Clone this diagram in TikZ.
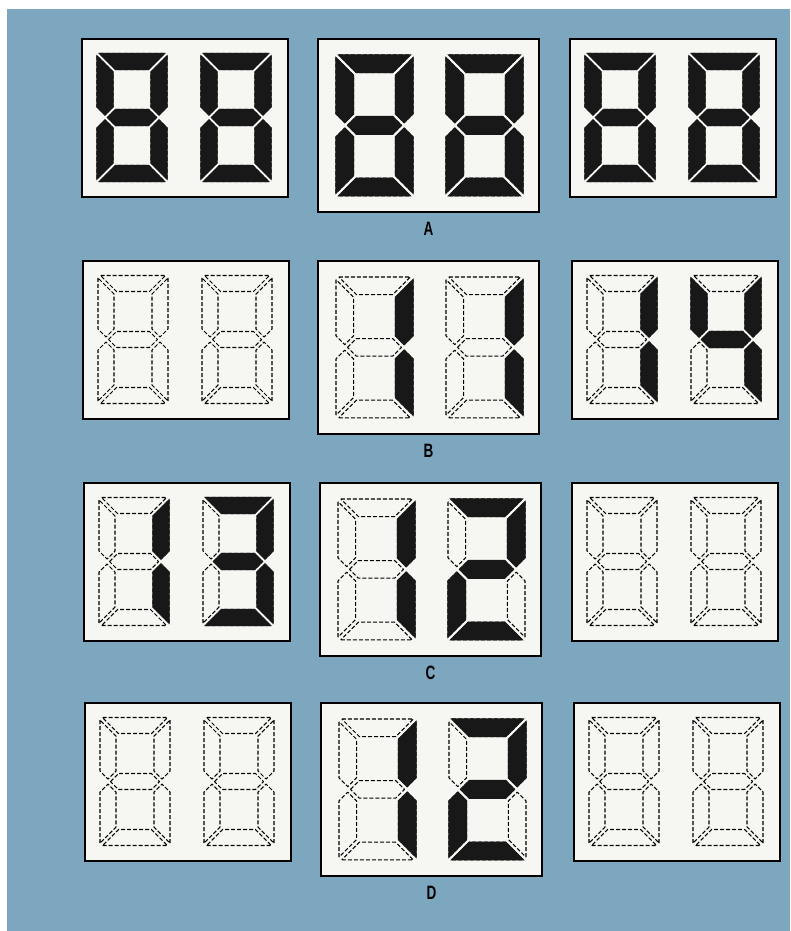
\documentclass[tikz,border=0pt]{standalone}
\usepackage{fontspec}
\setsansfont{Liberation Sans}
\usetikzlibrary{positioning}

\definecolor{backblue}{RGB}{125,166,191}
\definecolor{panelwhite}{RGB}{246,246,243}
\definecolor{segblack}{RGB}{24,24,24}

\newcommand{\sega}{(2.5,0) -- (67.5,0) -- (51.5,16) -- (18.5,16) -- cycle}
\newcommand{\segb}{(70,2.5) -- (70,53.5) -- (62,61.5) -- (54,53.5) -- (54,18.5) -- cycle}
\newcommand{\segc}{(70,125.5) -- (70,74.5) -- (62,66.5) -- (54,74.5) -- (54,109.5) -- cycle}
\newcommand{\segd}{(2.5,128) -- (67.5,128) -- (51.5,112) -- (18.5,112) -- cycle}
\newcommand{\sege}{(0,125.5) -- (0,74.5) -- (8,66.5) -- (16,74.5) -- (16,109.5) -- cycle}
\newcommand{\segf}{(0,2.5) -- (0,53.5) -- (8,61.5) -- (16,53.5) -- (16,18.5) -- cycle}
\newcommand{\segg}{(10.5,64) -- (18.5,56) -- (51.5,56) -- (59.5,64) -- (51.5,72) -- (18.5,72) -- cycle}
\newcommand{\segnone}{(0,0)}
\newcommand{\alllit}{\sega,\segb,\segc,\segd,\sege,\segf,\segg}

% panel, offset of the digit, lit segments
\newcommand{\lcddigit}[4][1]{%
  \begin{scope}[shift={(#2.north west)}, shift={#3}, scale=#1]
    \foreach \s in \alllit {\draw[unlit] \s;}
    \foreach \s in #4 {\filldraw[lit] \s;}
  \end{scope}}

\begin{document}
\begin{tikzpicture}[
x=0.2mm, y=-0.2mm,
smallpanel/.style={
draw,
line width=1.1pt,
fill=panelwhite,
inner sep=0pt,
outer sep=0pt,
anchor=north west,
minimum width=41.2mm,
minimum height=31.6mm
},
bigpanel/.style={
smallpanel,
minimum width=44.2mm,
minimum height=34.6mm
},
caption/.style={
font=\sffamily\bfseries\fontsize{11}{12}\selectfont,
inner sep=0pt,
text=black
},
unlit/.style={
draw=black,
line width=0.6pt,
dash pattern=on 0.8mm off 0.4mm,
line join=round
},
lit/.style={
fill=segblack,
draw=segblack,
line width=0.7pt
}
]

\useasboundingbox (0,0) rectangle (790,931);
\fill[white] (0,0) rectangle (790,931);
\fill[backblue] (7,9) rectangle (790,931);

\node[smallpanel] (a1) at (82,39) {};
\node[bigpanel, right=6mm of a1.north east, anchor=north west] (a2) {};
\node[smallpanel, right=6.2mm of a2.north east, anchor=north west] (a3) {};
\node[caption, below=2mm of a2] (capa) {\scalebox{0.7}[1]{A}};

\node[smallpanel] (b1) at (83,261) {};
\node[bigpanel, right=5.8mm of b1.north east, anchor=north west] (b2) {};
\node[smallpanel, right=6.6mm of b2.north east, anchor=north west] (b3) {};
\node[caption, below=2mm of b2] (capb) {\scalebox{0.7}[1]{B}};

\node[smallpanel] (c1) at (84,483) {};
\node[bigpanel, right=6mm of c1.north east, anchor=north west] (c2) {};
\node[smallpanel, right=6.2mm of c2.north east, anchor=north west] (c3) {};
\node[caption, below=2mm of c2] (capc) {\scalebox{0.7}[1]{C}};

\node[smallpanel] (d1) at (85,703) {};
\node[bigpanel, right=6mm of d1.north east, anchor=north west] (d2) {};
\node[smallpanel, right=6.4mm of d2.north east, anchor=north west] (d3) {};
\node[caption, below=2mm of d2] (capd) {\scalebox{0.7}[1]{D}};

\lcddigit{a1}{(15,14.5)}{\alllit}
\lcddigit{a1}{(119,14.5)}{\alllit}
\lcddigit[1.1]{a2}{(18,16)}{\alllit}
\lcddigit[1.1]{a2}{(128,16)}{\alllit}
\lcddigit{a3}{(15,14.5)}{\alllit}
\lcddigit{a3}{(119,14.5)}{\alllit}

\lcddigit{b1}{(15,14.5)}{{\segnone}}
\lcddigit{b1}{(119,14.5)}{{\segnone}}
\lcddigit[1.1]{b2}{(18,16)}{{\segb,\segc}}
\lcddigit[1.1]{b2}{(128,16)}{{\segb,\segc}}
\lcddigit{b3}{(15,14.5)}{{\segb,\segc}}
\lcddigit{b3}{(119,14.5)}{{\segb,\segc,\segf,\segg}}

\lcddigit{c1}{(15,14.5)}{{\segb,\segc}}
\lcddigit{c1}{(119,14.5)}{{\sega,\segb,\segc,\segd,\segg}}
\lcddigit[1.1]{c2}{(18,16)}{{\segb,\segc}}
\lcddigit[1.1]{c2}{(128,16)}{{\sega,\segb,\segd,\sege,\segg}}
\lcddigit{c3}{(15,14.5)}{{\segnone}}
\lcddigit{c3}{(119,14.5)}{{\segnone}}

\lcddigit{d1}{(15,14.5)}{{\segnone}}
\lcddigit{d1}{(119,14.5)}{{\segnone}}
\lcddigit[1.1]{d2}{(18,16)}{{\segb,\segc}}
\lcddigit[1.1]{d2}{(128,16)}{{\sega,\segb,\segd,\sege,\segg}}
\lcddigit{d3}{(15,14.5)}{{\segnone}}
\lcddigit{d3}{(119,14.5)}{{\segnone}}

\end{tikzpicture}
\end{document}
